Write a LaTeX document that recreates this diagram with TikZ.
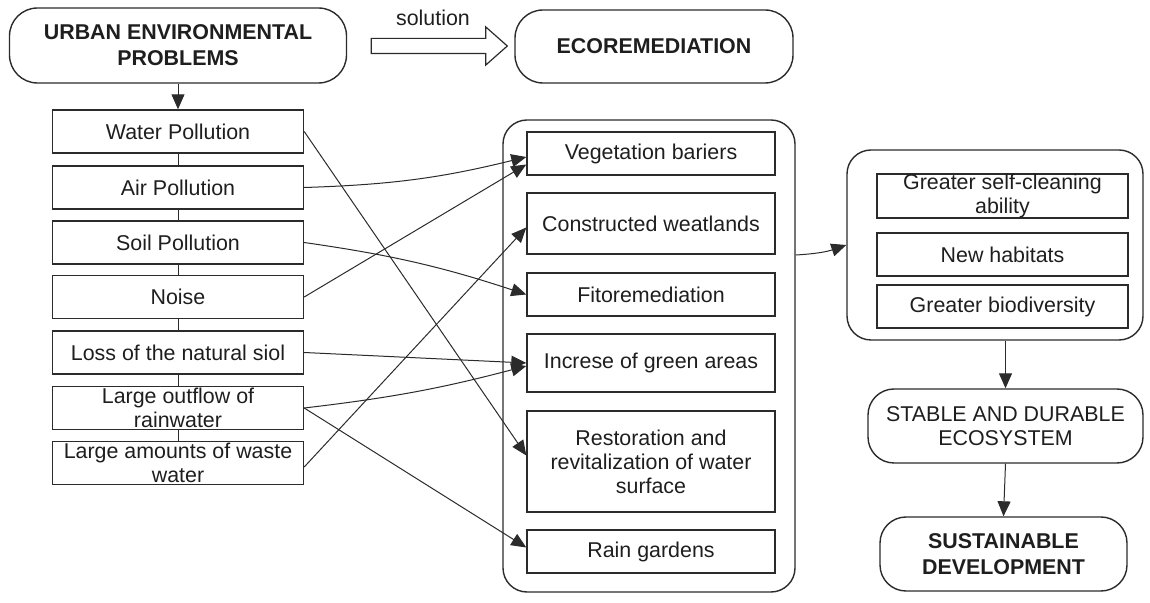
\documentclass[tikz,border=0pt]{standalone}
\usepackage{fontspec}
\setmainfont{Liberation Sans}
\usetikzlibrary{positioning,calc,shapes.arrows,arrows.meta}
\definecolor{linegray}{HTML}{2b2b2b}
\definecolor{txtgray}{HTML}{1e1e1e}

\begin{document}
\begin{tikzpicture}[x=5pt, y=-5pt, >={Triangle[length=7.5pt,width=6.5pt]},
  every node/.style={text=txtgray, font=\fontsize{10.7}{12}\selectfont},
  probbox/.style={draw=linegray, line width=0.7pt, minimum width=125.5pt, minimum height=21.5pt, inner ysep=0pt, align=center},
  roundbox/.style={draw=linegray, line width=0.7pt, rounded corners=14pt, align=center},
  link/.style={->, draw=linegray, line width=0.5pt}]
  \useasboundingbox (0,0) rectangle (115,60.3);

  % Top row
  \node[roundbox, minimum width=168.5pt, minimum height=37.5pt, font=\fontsize{10.7}{13}\selectfont\bfseries] (urban) at (17.8, 4.55) {URBAN ENVIRONMENTAL\\PROBLEMS};
  \node[roundbox, minimum width=139pt, minimum height=36.5pt, font=\fontsize{10.7}{13}\selectfont\bfseries] (ecorem) at (65.4, 4.65) {ECOREMEDIATION};
  \node[single arrow, draw=linegray, line width=0.6pt, single arrow head extend=5.75pt, single arrow tip angle=83, minimum height=68pt, inner sep=3.5pt] (solarrow) at (43.5, 4.6) {};
  \node (soltext) at (43.3, 1.75) {solution};

  % Urban problems
  \node[probbox] (water) at (17.8, 13.15) {Water Pollution};
  \node[probbox] (air) at (17.8, 18.75) {Air Pollution};
  \node[probbox] (soil) at (17.8, 24.25) {Soil Pollution};
  \node[probbox] (noise) at (17.8, 29.7) {Noise};
  \node[probbox] (loss) at (17.8, 35.25) {Loss of the natural siol};
  \node[probbox] (outflow) at (17.8, 40.8) {Large outflow of\\rainwater};
  \node[probbox] (amounts) at (17.8, 46.3) {Large amounts of waste\\water};

  \draw[link] (urban) -- (water);
  \draw[linegray, line width=0.5pt] (water) -- (air);
  \draw[linegray, line width=0.5pt] (air) -- (soil);
  \draw[linegray, line width=0.5pt] (soil) -- (noise);
  \draw[linegray, line width=0.5pt] (noise) -- (loss);
  \draw[linegray, line width=0.5pt] (loss) -- (outflow);
  \draw[linegray, line width=0.5pt] (outflow) -- (amounts);

  % Ecoremediation measures
  \node[roundbox, rounded corners=12pt, minimum width=146pt, minimum height=236pt] (ecobox) at (64.9, 35.6) {};
  \node[probbox, minimum width=124pt] (veget) at (65.1, 15.35) {Vegetation bariers};
  \node[probbox, minimum width=124pt, minimum height=30.5pt] (constr) at (65.1, 22.35) {Constructed weatlands};
  \node[probbox, minimum width=124pt] (fito) at (65.1, 29.45) {Fitoremediation};
  \node[probbox, minimum width=124pt, minimum height=29pt] (incr) at (65.1, 36.3) {Increse of green areas};
  \node[probbox, minimum width=124pt, minimum height=50.5pt] (restor) at (65.1, 46.15) {Restoration and\\revitalization of water\\surface};
  \node[probbox, minimum width=124pt] (rain) at (65.1, 55.15) {Rain gardens};

  \draw[link] (water.east) -- ([yshift=3pt]restor.west);
  \draw[link] (air.east) to[bend right=6] ([yshift=-1.75pt]veget.west);
  \draw[link] (soil.east) to[bend left=5] (fito.west);
  \draw[link] (noise.east) -- ([yshift=-5.5pt]veget.west);
  \draw[link] (loss.east) -- (incr.west);
  \draw[link] (outflow.east) to[bend right=4] ([yshift=-1.5pt]incr.west);
  \draw[link] (outflow.east) -- ([yshift=2pt]rain.west);
  \draw[link] ([yshift=-2pt]amounts.east) -- ([yshift=-2pt]constr.west);

  % Effects
  \node[roundbox, rounded corners=12pt, minimum width=148pt, minimum height=95pt] (effbox) at (99.5, 24.5) {};
  \node[probbox] (selfclean) at (100.25, 19.6) {Greater self-cleaning\\ability};
  \node[probbox] (habitats) at (100.25, 25.45) {New habitats};
  \node[probbox] (biodiv) at (100.25, 30.65) {Greater biodiversity};
  \node[roundbox, rounded corners=13pt, minimum width=137.5pt, minimum height=37pt] (stable) at (100.55, 42.6) {STABLE AND DURABLE\\ECOSYSTEM};
  \node[roundbox, rounded corners=13pt, minimum width=123.5pt, minimum height=37pt, font=\fontsize{10.7}{13}\selectfont\bfseries] (sustain) at (100.35, 55.4) {SUSTAINABLE\\DEVELOPMENT};

  \draw[link] ([yshift=50.5pt]ecobox.east) to[bend right=8] (effbox.west);
  \draw[link] (stable.north |- effbox.south) -- (stable.north);
  \draw[link] (stable.south) -- (sustain.north);
\end{tikzpicture}
\end{document}
